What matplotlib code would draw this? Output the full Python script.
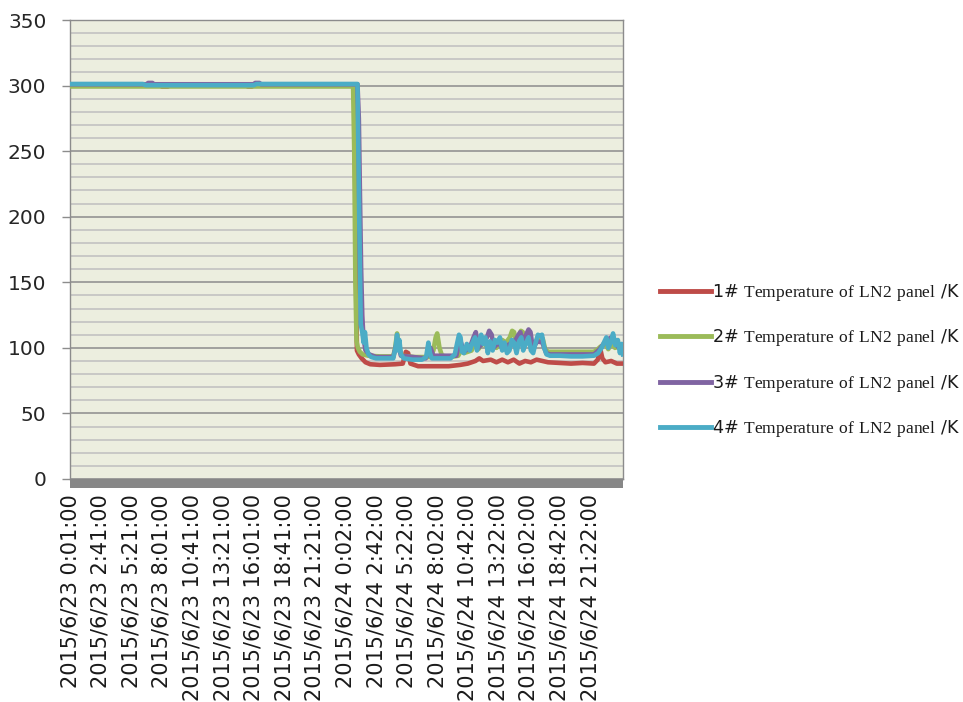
import matplotlib
matplotlib.use("Agg")
import matplotlib.pyplot as plt
from matplotlib.patches import Rectangle
import numpy as np

plt.rcParams['font.family'] = ['DejaVu Sans']
plt.rcParams['mathtext.fontset'] = 'custom'
plt.rcParams['mathtext.rm'] = 'Liberation Serif'

# ---------------- data (x = minutes since 2015/6/23 0:01) ----------------
tick_labels = ["2015/6/23 0:01:00", "2015/6/23 2:41:00", "2015/6/23 5:21:00",
               "2015/6/23 8:01:00", "2015/6/23 10:41:00", "2015/6/23 13:21:00",
               "2015/6/23 16:01:00", "2015/6/23 18:41:00", "2015/6/23 21:21:00",
               "2015/6/24 0:02:00", "2015/6/24 2:42:00", "2015/6/24 5:22:00",
               "2015/6/24 8:02:00", "2015/6/24 10:42:00", "2015/6/24 13:22:00",
               "2015/6/24 16:02:00", "2015/6/24 18:42:00", "2015/6/24 21:22:00"]
tick_step = 160
n_samples = 2892

series_names = ["1#", "2#", "3#", "4#"]

t1 = [0, 470, 480, 510, 520, 920, 930, 950, 960, 1486, 1490, 1494, 1497, 1500, 1510, 1525,
      1545, 1570, 1620, 1700, 1740, 1756, 1768, 1780, 1820, 1900, 1980, 2040, 2080, 2120,
      2140, 2160, 2200, 2230, 2260, 2290, 2320, 2350, 2380, 2410, 2440, 2470, 2500, 2560,
      2620, 2680, 2740, 2760, 2772, 2784, 2800, 2830, 2860, 2892]
v1 = [300.4, 300.4, 299.2, 299.2, 300.4, 300.4, 299.2, 299.2, 300.4, 300.4, 240, 180, 130, 98, 95, 92,
      89, 87.5, 87, 87.5, 88, 97, 96, 88, 86, 86, 86, 87, 88, 90,
      92, 90, 91, 89, 91, 89, 91, 88, 90, 89, 91, 90, 89, 88.5,
      88, 88.5, 88, 91, 100, 92, 89, 90, 88, 88]

t2 = [0, 1480, 1486, 1492, 1498, 1505, 1515, 1530, 1560, 1620, 1690, 1700, 1710, 1722, 1735,
      1800, 1880, 1900, 1912, 1920, 1932, 1945, 1990, 2030, 2045, 2060, 2100, 2120, 2135,
      2160, 2180, 2200, 2230, 2260, 2280, 2300, 2312, 2322, 2332, 2345, 2358, 2368, 2378,
      2395, 2420, 2440, 2460, 2472, 2485, 2500, 2560, 2680, 2740, 2760, 2775, 2790, 2800,
      2815, 2835, 2850, 2870, 2892]
v2 = [299.3, 299.3, 250, 150, 105, 100, 97, 95, 94, 93.5, 93.5, 100, 111, 100, 94,
      93, 93, 98, 108, 111, 100, 94, 93, 94, 98, 96, 98, 106, 99,
      104, 101, 103, 100, 106, 104, 108, 113, 112, 104, 106, 113, 112, 102,
      106, 100, 106, 108, 107, 99, 97, 97, 97, 97, 99, 101, 102, 103,
      99, 104, 100, 101, 98]

t3 = [0, 400, 408, 430, 438, 960, 968, 990, 998, 1503, 1510, 1516, 1522, 1528, 1534,
      1545, 1565, 1600, 1690, 1712, 1730, 1860, 1885, 1900, 2020, 2040, 2060, 2090, 2110,
      2122, 2135, 2160, 2180, 2192, 2205, 2215, 2240, 2260, 2290, 2310, 2330, 2345, 2355,
      2365, 2385, 2398, 2408, 2420, 2445, 2470, 2490, 2510, 2740, 2770, 2800, 2830, 2850,
      2870, 2892]
v3 = [301, 301, 302, 302, 301, 301, 302, 302, 301, 301, 275, 215, 160, 125, 108,
      98, 95, 93, 93, 106, 94, 92, 100, 94, 94, 106, 97, 100, 108,
      112, 100, 104, 108, 113, 110, 100, 104, 100, 102, 104, 106, 110, 112,
      105, 110, 114, 112, 100, 105, 104, 96, 95, 95, 99, 105, 108, 104,
      100, 98]

t4 = [0, 380, 395, 960, 975, 1503, 1512, 1520, 1528, 1535, 1542, 1550, 1560, 1575, 1600,
      1650, 1690, 1702, 1710, 1716, 1722, 1730, 1745, 1790, 1840, 1862, 1874, 1882, 1892,
      1930, 1990, 2012, 2025, 2034, 2042, 2050, 2060, 2075, 2090, 2105, 2118, 2128, 2140,
      2150, 2160, 2172, 2185, 2195, 2210, 2222, 2235, 2248, 2260, 2272, 2285, 2298, 2310,
      2322, 2335, 2348, 2360, 2370, 2385, 2398, 2410, 2422, 2435, 2447, 2458, 2468, 2480,
      2492, 2510, 2560, 2620, 2680, 2740, 2762, 2780, 2792, 2805, 2815, 2828, 2840, 2852,
      2865, 2876, 2885, 2892]
v4 = [301.2, 301.2, 300.3, 300.3, 301.2, 301.2, 200, 118, 112, 104, 112, 100, 95, 93, 92,
      92, 92, 100, 110, 98, 106, 95, 92, 91, 91, 93, 104, 96, 92,
      92, 92, 95, 104, 110, 108, 97, 96, 103, 98, 104, 108, 98, 106,
      110, 103, 108, 96, 105, 98, 106, 104, 108, 98, 104, 96, 98, 106,
      104, 96, 105, 108, 98, 104, 108, 98, 96, 104, 110, 109, 110, 100,
      95, 94, 94, 93.5, 93.5, 94, 96, 100, 104, 108, 100, 104, 111, 102,
      106, 96, 103, 95]

colors = ["#BE4B48", "#9BBB59", "#8064A2", "#4BACC6"]

# ---------------- figure ----------------
W, H = 963, 702
fig = plt.figure(figsize=(W / 100, H / 100), dpi=100)
L, R, T, B = 70, 623, 20, 479
ax = fig.add_axes([L / W, 1 - B / H, (R - L) / W, (B - T) / H])
ax.set_facecolor("#ECEEDF")

for t, v, c, name in zip([t1, t2, t3, t4], [v1, v2, v3, v4], colors, series_names):
    lab = name + r"$\mathrm{\ Temperature\ of\ LN2\ panel\ }$/K"
    ax.plot(t, v, color=c, lw=3.3, solid_joinstyle='round', label=lab, zorder=3)

ax.set_xlim(-1, n_samples)
ax.set_ylim(0, 350)
ax.set_yticks(np.arange(0, 351, 50))
ax.set_yticks(np.arange(0, 351, 10), minor=True)
ax.grid(which='minor', axis='y', color='#BFBFBF', lw=1.1, zorder=1)
ax.grid(which='major', axis='y', color='#8C8C8C', lw=1.1, zorder=1)
ax.set_axisbelow(True)

ax.set_xticks(np.arange(len(tick_labels)) * tick_step)
ax.set_xticklabels(tick_labels, rotation=90, fontsize=15, color='#1a1a1a')
ax.tick_params(axis='x', length=0, pad=11)
ax.tick_params(axis='y', which='major', length=6, width=1, color='#8C8C8C',
               labelsize=14.5, labelcolor='#262626', pad=11)
ax.tick_params(axis='y', which='minor', length=0)

for s in ['left', 'right', 'top', 'bottom']:
    ax.spines[s].set_color('#8C8C8C')
    ax.spines[s].set_linewidth(1.0)

# floor band under the plot area
floor_h = 9 / (B - T)
ax.add_patch(Rectangle((0, -floor_h), 1, floor_h, transform=ax.transAxes,
                       facecolor='#878787', edgecolor='none', clip_on=False, zorder=4))

leg = fig.legend(loc='center left', bbox_to_anchor=(660 / W, 1 - 360.5 / H),
                 frameon=False, fontsize=12.6, handlelength=2.9, handletextpad=0.1,
                 labelspacing=1.4, borderpad=0, borderaxespad=0)
for line in leg.get_lines():
    line.set_linewidth(3.5)
for txt in leg.get_texts():
    txt.set_color('#1a1a1a')

fig.savefig("out.png", dpi=100, facecolor='white')
